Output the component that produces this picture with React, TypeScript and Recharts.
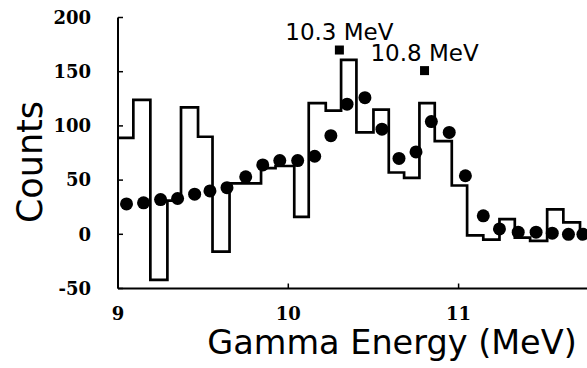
import React from 'react';
import { ComposedChart, Line, Scatter, XAxis, YAxis, ReferenceDot, Label } from 'recharts';

// Histogram: bin start energies (MeV) and counts
const histEdges = [9.0, 9.09, 9.19, 9.29, 9.37, 9.47, 9.555, 9.655, 9.84, 9.925, 10.035, 10.12, 10.22, 10.31, 10.40, 10.50, 10.59, 10.68, 10.77, 10.86, 10.96, 11.05, 11.145, 11.24, 11.33, 11.42, 11.52, 11.615, 11.713];
const histCounts = [89, 124, -42, 31, 117, 90, -16, 47, 61, 63, 16, 121, 114, 161, 94, 115, 57, 52, 121, 86, 45, -1, -5, 14, -3, -6, 23, 11, 1];

// Filled circles
const dotEnergies = [9.05, 9.15, 9.25, 9.35, 9.45, 9.54, 9.64, 9.75, 9.85, 9.95, 10.055, 10.155, 10.25, 10.345, 10.45, 10.55, 10.65, 10.75, 10.84, 10.945, 11.04, 11.145, 11.24, 11.35, 11.455, 11.55, 11.645, 11.73];
const dotCounts = [28, 29, 32, 33, 37, 40, 43, 53, 64, 68, 68, 72, 91, 120, 126, 97, 70, 76, 104, 94, 54, 17, 5, 2, 2, 1, 0, 0];

// Annotated peaks
const peakEnergies = [10.3, 10.8];
const peakCounts = [170, 151];
const peakLabels = ['10.3 MeV', '10.8 MeV'];

const xTicks = [9, 10, 11];
const yTicks = [-50, 0, 50, 100, 150, 200];
const X_MIN = 9;
const X_MAX = 11.754;

const histData = [
  ...histEdges.map((x, i) => ({ x, y: histCounts[i] })),
  { x: X_MAX, y: histCounts[histCounts.length - 1] },
];
const dotData = dotEnergies.map((x, i) => ({ x, y: dotCounts[i] }));

const tickFont = { fill: '#000', fontSize: 18, fontFamily: 'DejaVu Serif', fontWeight: 'bold' as const };

export default function App() {
  return (
    <div style={{ position: 'absolute', left: 0, top: 0, width: 587, height: 368, background: '#fff' }}>
      <ComposedChart width={587} height={368} margin={{ top: 17.5, right: 0, bottom: 49.5, left: 0 }}>
        <XAxis
          xAxisId="t"
          orientation="top"
          type="number"
          dataKey="x"
          domain={[X_MIN, X_MAX]}
          allowDataOverflow
          ticks={xTicks}
          height={0}
          tick={false}
          tickSize={-5}
          axisLine={{ stroke: '#000', strokeWidth: 2 }}
          tickLine={{ stroke: '#000', strokeWidth: 1.5 }}
        />
        <XAxis
          xAxisId="b"
          type="number"
          dataKey="x"
          domain={[X_MIN, X_MAX]}
          allowDataOverflow
          ticks={xTicks}
          height={30}
          tick={tickFont}
          tickSize={-5}
          tickMargin={23.5}
          axisLine={{ stroke: '#000', strokeWidth: 2 }}
          tickLine={{ stroke: '#000', strokeWidth: 1.5 }}
        >
          <Label
            content={() => (
              <text x={392} y={354} textAnchor="middle" fontSize={33.5} fontFamily="DejaVu Sans" fill="#000">
                Gamma Energy (MeV)
              </text>
            )}
          />
        </XAxis>
        <YAxis
          type="number"
          dataKey="y"
          domain={[-50, 200]}
          allowDataOverflow
          ticks={yTicks}
          width={118}
          tick={tickFont}
          tickSize={-5}
          tickMargin={32}
          axisLine={{ stroke: '#000', strokeWidth: 2 }}
          tickLine={{ stroke: '#000', strokeWidth: 1.5 }}
        >
          <Label
            content={() => (
              <text
                x={42}
                y={162}
                transform="rotate(-90 42 162)"
                textAnchor="middle"
                fontSize={35}
                fontFamily="DejaVu Sans"
                fill="#000"
              >
                Counts
              </text>
            )}
          />
        </YAxis>
        <Line
          xAxisId="b"
          data={histData}
          dataKey="y"
          type="stepAfter"
          stroke="#000"
          strokeWidth={2.7}
          dot={false}
          activeDot={false}
          isAnimationActive={false}
        />
        <Scatter
          xAxisId="b"
          data={dotData}
          dataKey="y"
          fill="#000"
          isAnimationActive={false}
          shape={(p: any) => <circle cx={p.cx} cy={p.cy} r={6.5} fill="#000" />}
        />
        {peakEnergies.map((e, i) => (
          <ReferenceDot
            key={i}
            xAxisId="b"
            x={e}
            y={peakCounts[i]}
            r={4.5}
            shape={(p: any) => <rect x={p.cx - 4.5} y={p.cy - 4.5} width={9} height={9} fill="#000" />}
            label={(p: any) => {
              const vb = p.viewBox || {};
              const cx = (vb.x ?? 0) + (vb.width ?? 0) / 2;
              const top = vb.y ?? 0;
              return (
                <text x={cx} y={top - 5.5} textAnchor="middle" fontSize={23} fontFamily="DejaVu Sans" fill="#000">
                  {peakLabels[i]}
                </text>
              );
            }}
          />
        ))}
      </ComposedChart>
    </div>
  );
}
